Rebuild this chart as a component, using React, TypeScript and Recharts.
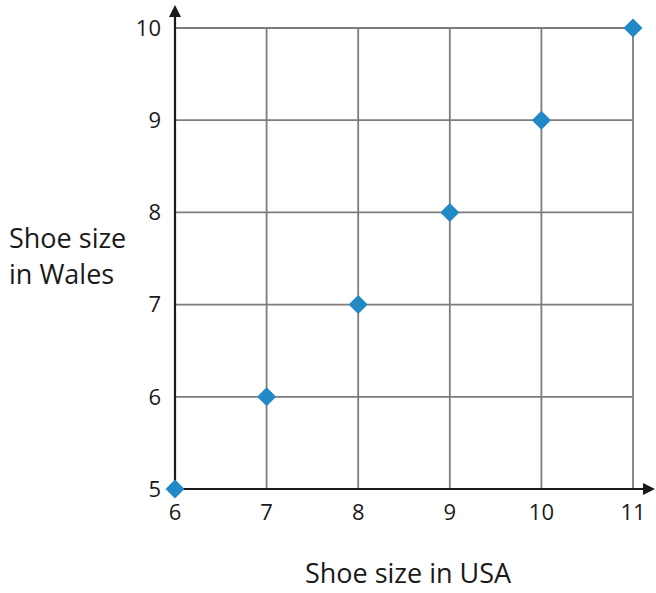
import { ScatterChart, Scatter, XAxis, YAxis, CartesianGrid, ReferenceLine, Label } from 'recharts'

const USA_SIZES = [6, 7, 8, 9, 10, 11]
const WALES_SIZES = [5, 6, 7, 8, 9, 10]
const X_TICKS = [6, 7, 8, 9, 10, 11]
const Y_TICKS = [5, 6, 7, 8, 9, 10]

const BLUE = '#2189c6'
const INK = '#1a1a1a'
const GRID = '#7d7d7d'
const FONT = '"Open Sans", "Noto Sans", sans-serif'

const data = USA_SIZES.map((x, i) => ({ x, y: WALES_SIZES[i] }))

function Diamond(props: any) {
  const { cx, cy } = props
  const r = 9.5
  return <polygon points={`${cx},${cy - r} ${cx + r},${cy} ${cx},${cy + r} ${cx - r},${cy}`} fill={BLUE} />
}

function ArrowLine(props: any) {
  const { x1, y1, x2, y2 } = props
  const horizontal = Math.abs(y2 - y1) < 1
  const head = horizontal
    ? `${x2},${y2} ${x2 - 12},${y2 - 6} ${x2 - 12},${y2 + 6}`
    : `${x2},${y2} ${x2 - 6},${y2 + 12} ${x2 + 6},${y2 + 12}`
  return (
    <g>
      <line x1={x1} y1={y1} x2={horizontal ? x2 - 8 : x2} y2={horizontal ? y2 : y2 + 8} stroke={INK} strokeWidth={2.2} />
      <polygon points={head} fill={INK} />
    </g>
  )
}

function YTitle() {
  return (
    <text x={9} y={248} fill={INK} fontSize={27} fontFamily={FONT}>
      <tspan x={9} dy={0}>Shoe size</tspan>
      <tspan x={9} dy={36}>in Wales</tspan>
    </text>
  )
}

function XTitle() {
  return (
    <text x={408} y={583} textAnchor="middle" fill={INK} fontSize={27} fontFamily={FONT}>
      Shoe size in USA
    </text>
  )
}

export default function App() {
  return (
    <div style={{ position: 'absolute', left: 0, top: 0, width: 656, height: 593, background: '#fff' }}>
      <ScatterChart width={656} height={593} margin={{ top: 28, right: 23, bottom: 64, left: 0 }}>
        <CartesianGrid stroke={GRID} strokeWidth={1.8} />
        <XAxis
          type="number" dataKey="x" domain={[6, 11]} ticks={X_TICKS}
          axisLine={false} tickLine={false} tickSize={0} tickMargin={15} height={40}
          tick={{ fontSize: 22, fill: INK, fontFamily: FONT }}
        >
          <Label content={<XTitle />} />
        </XAxis>
        <YAxis
          type="number" dataKey="y" domain={[5, 10]} ticks={Y_TICKS}
          axisLine={false} tickLine={false} tickSize={0} tickMargin={14} width={175}
          tick={{ fontSize: 22, fill: INK, fontFamily: FONT }}
        >
          <Label content={<YTitle />} />
        </YAxis>
        <ReferenceLine segment={[{ x: 6, y: 5 }, { x: 11.24, y: 5 }]} ifOverflow="visible" shape={<ArrowLine />} />
        <ReferenceLine segment={[{ x: 6, y: 5 }, { x: 6, y: 10.25 }]} ifOverflow="visible" shape={<ArrowLine />} />
        <Scatter data={data} shape={<Diamond />} isAnimationActive={false} />
      </ScatterChart>
    </div>
  )
}
